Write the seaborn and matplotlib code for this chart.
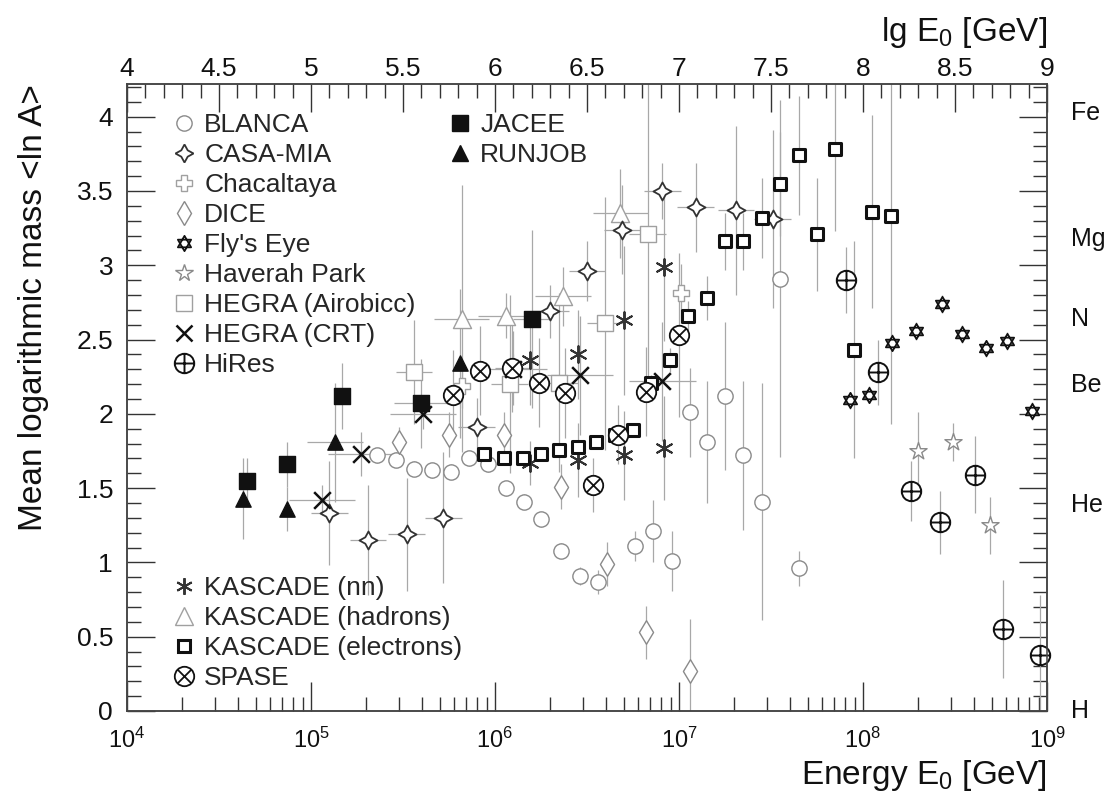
import numpy as np
import matplotlib
matplotlib.use("Agg")
import matplotlib.pyplot as plt
import matplotlib.transforms as mtransforms
from matplotlib.path import Path
from matplotlib.lines import Line2D
from matplotlib.ticker import (MultipleLocator, LogLocator, LogFormatterMathtext,
                               NullFormatter, FuncFormatter, FixedLocator)
import seaborn as sns

# ---------------- measurements: lg(E0/GeV), <ln A>, error in <ln A>, half width in lg E
blanca_lgE = [5.36, 5.46, 5.56, 5.66, 5.76, 5.86, 5.96, 6.06, 6.16, 6.25, 6.36, 6.46,
              6.56, 6.76, 6.86, 6.96, 7.06, 7.15, 7.25, 7.35, 7.45, 7.55, 7.65]
blanca_lnA = [1.72, 1.69, 1.63, 1.62, 1.61, 1.70, 1.66, 1.50, 1.41, 1.29, 1.08, 0.91,
              0.87, 1.11, 1.21, 1.01, 2.01, 1.81, 2.12, 1.72, 1.41, 2.91, 0.96]
blanca_err = [0.05, 0.05, 0.05, 0.05, 0.05, 0.05, 0.05, 0.05, 0.05, 0.05, 0.05, 0.06,
              0.08, 0.10, 0.21, 0.20, 0.30, 0.41, 0.50, 0.50, 0.80, 1.20, 0.12]

casamia_lgE = [5.10, 5.31, 5.52, 5.72, 5.90, 6.10, 6.30, 6.50, 6.69, 6.91, 7.09, 7.31, 7.51]
casamia_lnA = [1.33, 1.15, 1.19, 1.30, 1.91, 2.31, 2.69, 2.96, 3.24, 3.50, 3.39, 3.37, 3.31]
casamia_err = [0.35, 0.37, 0.38, 0.44, 0.20, 0.25, 0.18, 0.20, 0.30, 0.19, 0.30, 0.57, 0.60]
casamia_dlg = 0.1

chacaltaya_lgE = [5.82, 7.01]
chacaltaya_lnA = [2.19, 2.81]
chacaltaya_err = [0.15, 0.20]

dice_lgE = [5.48, 5.75, 6.05, 6.36, 6.61, 6.82, 7.06]
dice_lnA = [1.81, 1.86, 1.86, 1.51, 0.99, 0.53, 0.27]
dice_err = [0.10, 0.15, 0.15, 0.15, 0.15, 0.18, 0.35]

flyseye_lgE = [7.93, 8.03, 8.16, 8.29, 8.43, 8.54, 8.67, 8.78, 8.92]
flyseye_lnA = [2.09, 2.13, 2.48, 2.56, 2.74, 2.54, 2.44, 2.49, 2.02]
flyseye_err = [0.06] * 9

haverah_lgE = [8.30, 8.49, 8.69]
haverah_lnA = [1.75, 1.81, 1.25]
haverah_err = [0.26, 0.13, 0.19]

airobicc_lgE = [5.56, 6.08, 6.35, 6.60, 6.83]
airobicc_lnA = [2.28, 2.20, 2.21, 2.61, 3.21]
airobicc_err = [0.35, 0.60, 0.60, 0.85, 1.10]
airobicc_dlg = 0.1

crt_lgE = [5.06, 5.27, 5.61, 6.10, 6.46, 6.91]
crt_lnA = [1.42, 1.73, 2.00, 2.30, 2.26, 2.22]
crt_err = [0.10, 0.15, 0.10, 0.10, 0.40, 0.40]
crt_dlg = 0.18

hires_lgE = [7.91, 8.08, 8.26, 8.42, 8.61, 8.76, 8.96]
hires_lnA = [2.90, 2.28, 1.48, 1.27, 1.59, 0.55, 0.38]
hires_err = [0.22, 0.22, 0.20, 0.21, 0.26, 0.33, 0.40]

jacee_lgE = [4.65, 4.87, 5.17, 5.60, 6.20]
jacee_lnA = [1.55, 1.66, 2.12, 2.07, 2.64]
jacee_err = [0.15, 0.15, 0.22, 0.30, 0.60]
jacee_dlg = [0.0, 0.0, 0.0, 0.15, 0.10]

runjob_lgE = [4.63, 4.87, 5.13, 5.81]
runjob_lnA = [1.43, 1.36, 1.81, 2.34]
runjob_err = [0.27, 0.15, 0.40, 0.50]
runjob_dlg = [0.0, 0.0, 0.15, 0.0]

knn_lgE = [6.19, 6.19, 6.45, 6.45, 6.70, 6.70, 6.92, 6.92]
knn_lnA = [1.67, 2.36, 1.69, 2.40, 1.72, 2.63, 1.77, 2.99]
knn_err = [0.15, 0.30, 0.25, 0.30, 0.30, 0.50, 0.35, 0.50]

khad_lgE = [5.82, 6.06, 6.37, 6.68]
khad_lnA = [2.64, 2.66, 2.79, 3.35]
khad_err = [0.90, 0.15, 0.20, 0.30]
khad_dlg = 0.15

kel_lgE = [5.94, 6.05, 6.15, 6.25, 6.35, 6.45, 6.55, 6.65, 6.75, 6.85, 6.95, 7.05,
           7.15, 7.25, 7.35, 7.45, 7.55, 7.65, 7.75, 7.85, 7.95, 8.05, 8.15]
kel_lnA = [1.73, 1.70, 1.70, 1.73, 1.76, 1.78, 1.81, 1.86, 1.89, 2.21, 2.36, 2.66,
           2.78, 3.16, 3.16, 3.32, 3.55, 3.74, 3.21, 3.78, 2.43, 3.36, 3.33]
kel_err = [0.03] * 9 + [0.05, 0.08, 0.10, 0.15, 0.19, 0.19, 0.27, 0.35, 0.40, 0.38,
                        0.55, 0.73, 0.65, 1.40]

spase_lgE = [5.77, 5.92, 6.09, 6.24, 6.38, 6.53, 6.67, 6.82, 7.00]
spase_lnA = [2.13, 2.29, 2.31, 2.21, 2.14, 1.52, 1.86, 2.15, 2.53]
spase_err = [0.30, 0.30, 0.30, 0.30, 0.30, 0.18, 0.20, 0.30, 0.55]

elements = ["H", "He", "Be", "N", "Mg", "Fe"]
mass_numbers = [1, 4, 9, 14, 24, 56]

top_ticks = [4, 4.5, 5, 5.5, 6, 6.5, 7, 7.5, 8, 8.5, 9]

# ---------------- styling
sns.set_theme(style="ticks")
plt.rcParams["font.family"] = ["Liberation Sans", "DejaVu Sans"]
plt.rcParams["mathtext.fontset"] = "custom"
plt.rcParams["mathtext.rm"] = "Liberation Sans"
plt.rcParams["mathtext.it"] = "Liberation Sans:italic"
plt.rcParams["mathtext.bf"] = "Liberation Sans:bold"

INK = "#111111"
GREY = "#8a8a8a"
LIGHT = "#a0a0a0"
ERR = "#a8a8a8"

# custom marker outlines
_circle = Path.unit_circle()
_plus = Path([[-1, 0], [1, 0], [0, -1], [0, 1]],
             [Path.MOVETO, Path.LINETO, Path.MOVETO, Path.LINETO])
_c = 0.7071
_cross = Path([[-_c, -_c], [_c, _c], [-_c, _c], [_c, -_c]],
              [Path.MOVETO, Path.LINETO, Path.MOVETO, Path.LINETO])
HIRES_M = Path.make_compound_path(_circle, _plus)
SPASE_M = Path.make_compound_path(_circle, _cross)
_ang_up = np.deg2rad([90, 210, 330, 90])
_ang_dn = np.deg2rad([270, 30, 150, 270])
_tri_up = Path(np.c_[np.cos(_ang_up), np.sin(_ang_up)], closed=True)
_tri_dn = Path(np.c_[np.cos(_ang_dn), np.sin(_ang_dn)], closed=True)
HEXAGRAM_M = Path.make_compound_path(_tri_up, _tri_dn)

fig = plt.figure(figsize=(11.18, 7.97), dpi=100)
ax = fig.add_axes([127 / 1118, 1 - 711 / 797, 920 / 1118, 627 / 797])
ax.set_xscale("log")
ax.set_xlim(1e4, 1e9)
ax.set_ylim(0, 4.22)


def dlg_to_xerr(lgE, dlg):
    lgE = np.asarray(lgE, float)
    d = np.broadcast_to(np.asarray(dlg, float), lgE.shape)
    E = 10.0 ** lgE
    return np.vstack([E - 10.0 ** (lgE - d), 10.0 ** (lgE + d) - E])


series = [
    # label, lgE, lnA, err, dlg, marker, size(pt), face, edge, lw, z
    ("BLANCA", blanca_lgE, blanca_lnA, blanca_err, 0.0, "o", 11, "white", GREY, 1.0, 3),
    ("CASA-MIA", casamia_lgE, casamia_lnA, casamia_err, casamia_dlg, (4, 1, 0), 13, "white", "#333333", 1.3, 5),
    ("Chacaltaya", chacaltaya_lgE, chacaltaya_lnA, chacaltaya_err, 0.0, "P", 12, "white", LIGHT, 1.0, 3),
    ("DICE", dice_lgE, dice_lnA, dice_err, 0.0, "d", 12, "white", GREY, 1.0, 3),
    ("Fly's Eye", flyseye_lgE, flyseye_lnA, flyseye_err, 0.0, HEXAGRAM_M, 11, "white", INK, 1.3, 5),
    ("Haverah Park", haverah_lgE, haverah_lnA, haverah_err, 0.0, "*", 13, "white", GREY, 1.0, 3),
    ("HEGRA (Airobicc)", airobicc_lgE, airobicc_lnA, airobicc_err, airobicc_dlg, "s", 11, "white", LIGHT, 1.0, 3),
    ("HEGRA (CRT)", crt_lgE, crt_lnA, crt_err, crt_dlg, "x", 12, None, INK, 1.8, 6),
    ("HiRes", hires_lgE, hires_lnA, hires_err, 0.0, HIRES_M, 14, "white", INK, 1.4, 6),
    ("JACEE", jacee_lgE, jacee_lnA, jacee_err, jacee_dlg, "s", 11, INK, INK, 1.0, 6),
    ("RUNJOB", runjob_lgE, runjob_lnA, runjob_err, runjob_dlg, "^", 11, INK, INK, 1.0, 6),
    ("KASCADE (nn)", knn_lgE, knn_lnA, knn_err, 0.0, (6, 2, 0), 12, None, "#333333", 1.4, 5),
    ("KASCADE (hadrons)", khad_lgE, khad_lnA, khad_err, khad_dlg, "^", 13, "white", LIGHT, 1.0, 3),
    ("KASCADE (electrons)", kel_lgE, kel_lnA, kel_err, 0.0, "s", 8, "white", INK, 2.2, 6),
    ("SPASE", spase_lgE, spase_lnA, spase_err, 0.0, SPASE_M, 14, "white", INK, 1.3, 6),
]

handles = {}
for label, lgE, lnA, err, dlg, marker, size, face, edge, lw, z in series:
    E = 10.0 ** np.asarray(lgE, float)
    xerr = dlg_to_xerr(lgE, dlg) if np.any(np.asarray(dlg) > 0) else None
    ax.errorbar(E, lnA, yerr=err, xerr=xerr, fmt="none", ecolor=ERR,
                elinewidth=0.9, capsize=0, zorder=1)
    if face is None:
        sns.scatterplot(x=E, y=lnA, ax=ax, marker=marker, s=size ** 2,
                        color=edge, linewidth=lw, zorder=z, legend=False,
                        clip_on=False)
        handles[label] = Line2D([], [], ls="none", marker=marker, ms=size,
                                color=edge, mew=lw)
    else:
        sns.scatterplot(x=E, y=lnA, ax=ax, marker=marker, s=size ** 2,
                        color=face, edgecolor=edge, linewidth=lw, zorder=z,
                        legend=False, clip_on=False)
        handles[label] = Line2D([], [], ls="none", marker=marker, ms=size,
                                mfc=face, mec=edge, mew=lw)

# ---------------- axes
TICK_KW = dict(direction="in", colors="#333333", labelcolor=INK, width=1.0)
ax.xaxis.set_major_locator(LogLocator(base=10, numticks=10))
ax.xaxis.set_minor_locator(LogLocator(base=10, subs=np.arange(2, 10), numticks=20))
ax.xaxis.set_major_formatter(LogFormatterMathtext())
ax.xaxis.set_minor_formatter(NullFormatter())
ax.yaxis.set_major_locator(MultipleLocator(0.5))
ax.yaxis.set_minor_locator(MultipleLocator(0.1))
ax.yaxis.set_major_formatter(FuncFormatter(lambda v, p: f"{v:g}"))
ax.tick_params(axis="x", which="major", length=21, labelsize=17, pad=12, top=False, **TICK_KW)
ax.tick_params(axis="x", which="minor", length=10, top=False, **TICK_KW)
ax.tick_params(axis="y", which="major", length=20, labelsize=19, pad=10,
               left=True, right=True, **TICK_KW)
ax.tick_params(axis="y", which="minor", length=10, left=True, right=True, **TICK_KW)
for sp in ax.spines.values():
    sp.set_visible(True)
    sp.set_color("#444444")
    sp.set_linewidth(1.1)

ax.set_xlabel("Energy E$_0$ [GeV]", fontsize=24, loc="right", labelpad=4, color=INK)
ax.set_ylabel("Mean logarithmic mass <ln A>", fontsize=24, loc="top", labelpad=20, color=INK)

ax2 = ax.twiny()
ax2.set_xlim(4, 9)
ax2.xaxis.set_major_locator(FixedLocator(top_ticks))
ax2.xaxis.set_minor_locator(MultipleLocator(0.1))
ax2.xaxis.set_major_formatter(FuncFormatter(lambda v, p: f"{v:g}"))
ax2.tick_params(axis="x", which="major", length=20, labelsize=19, pad=2.5, **TICK_KW)
ax2.tick_params(axis="x", which="minor", length=10, **TICK_KW)
ax2.set_xlabel("lg E$_0$ [GeV]", fontsize=24, loc="right", labelpad=11, color=INK)
for sp in ax2.spines.values():
    sp.set_color("#444444")
    sp.set_linewidth(1.1)

# element scale on the right-hand side
trans = mtransforms.blended_transform_factory(ax.transAxes, ax.transData)
for name, A in zip(elements, mass_numbers):
    ax.text(1.026, np.log(A), name, transform=trans, ha="left", va="center",
            fontsize=18, color=INK, clip_on=False)

# ---------------- legends
LEG_KW = dict(frameon=False, fontsize=19, handlelength=0.8, handletextpad=0.35,
              labelspacing=0.23, borderpad=0.0, borderaxespad=0.0, loc="upper left")
first = ["BLANCA", "CASA-MIA", "Chacaltaya", "DICE", "Fly's Eye", "Haverah Park",
         "HEGRA (Airobicc)", "HEGRA (CRT)", "HiRes"]
second = ["JACEE", "RUNJOB"]
third = ["KASCADE (nn)", "KASCADE (hadrons)", "KASCADE (electrons)", "SPASE"]

leg1 = ax.legend([handles[k] for k in first], first, bbox_to_anchor=(0.051, 0.954), **LEG_KW)
ax.add_artist(leg1)
leg2 = ax.legend([handles[k] for k in second], second, bbox_to_anchor=(0.351, 0.954), **LEG_KW)
ax.add_artist(leg2)
leg3 = ax.legend([handles[k] for k in third], third, bbox_to_anchor=(0.051, 0.215), **LEG_KW)

fig.savefig("out.png", dpi=100)
